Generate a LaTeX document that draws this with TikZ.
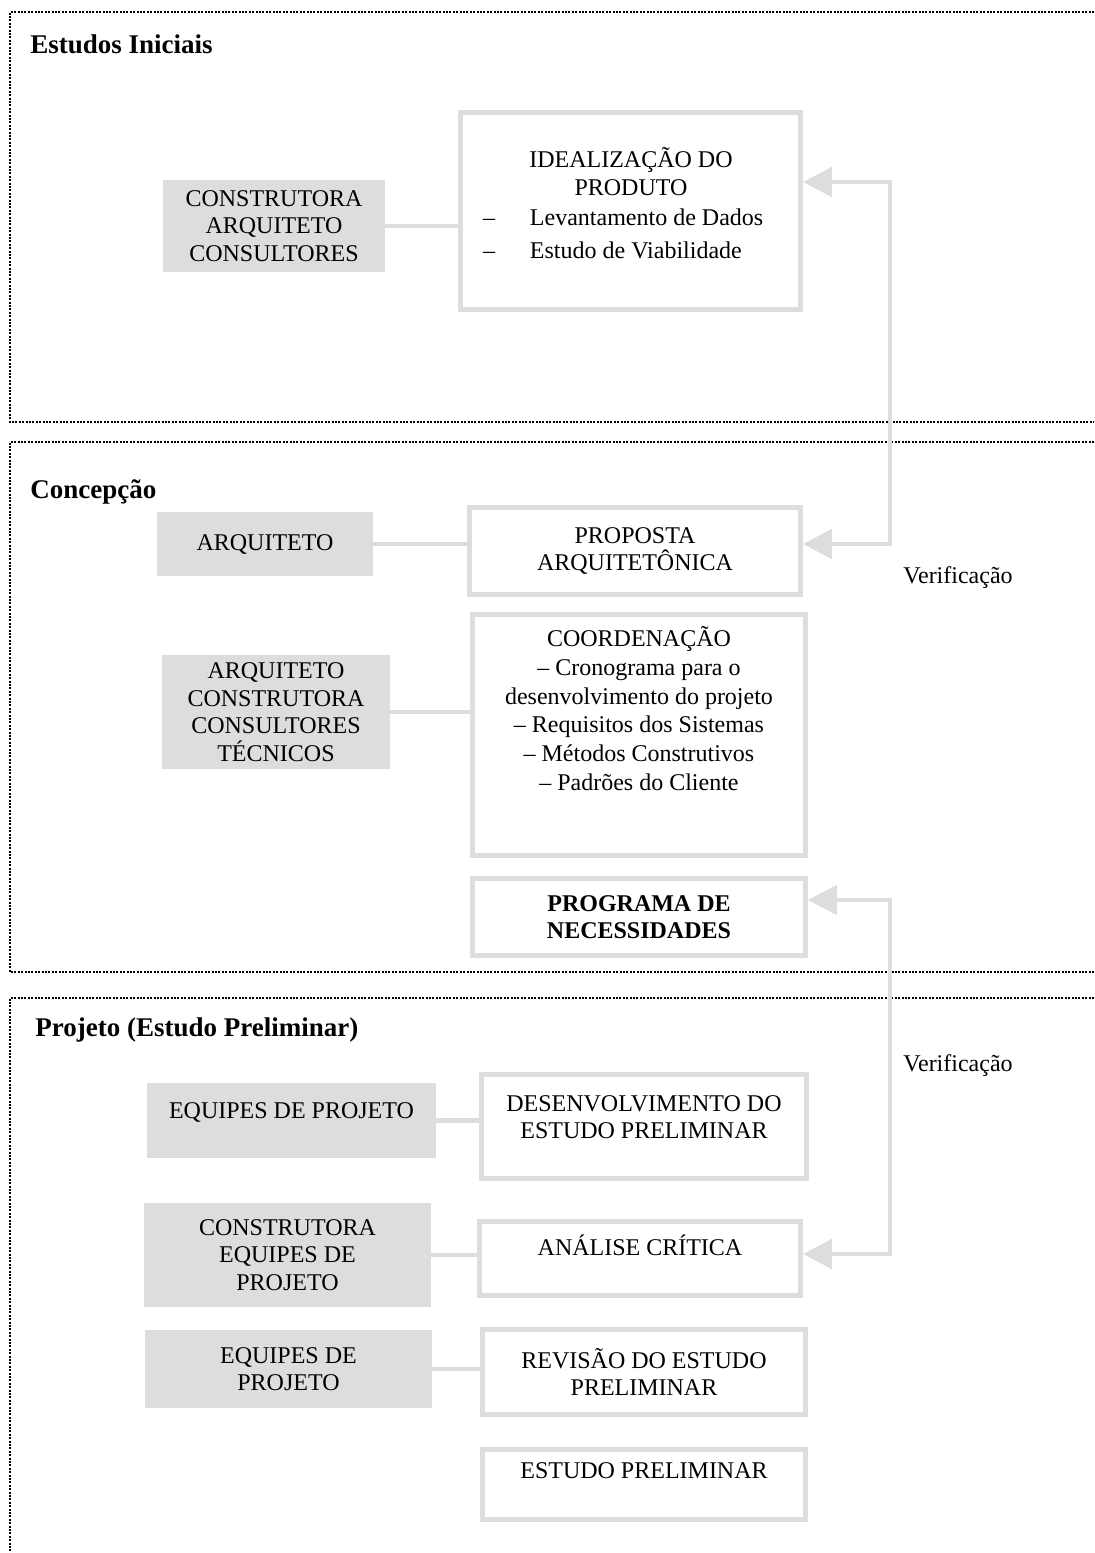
\documentclass[tikz,border=0pt]{standalone}
\usepackage{fontspec}
\setmainfont{Liberation Serif}
\usetikzlibrary{positioning,arrows.meta}
\definecolor{boxgray}{RGB}{221,221,221}

\begin{document}
\begin{tikzpicture}[x=0.5pt,y=-0.5pt,
  every node/.style={font=\fontsize{12}{13.8}\selectfont, inner sep=0pt},
  box size/.style 2 args={minimum width=#1*0.5pt, minimum height=#2*0.5pt},
  phase frame/.style={draw=black, line width=1pt, dash pattern=on 1pt off 0.7pt},
  phase title/.style={anchor=west, font=\bfseries\fontsize{13.5}{16}\selectfont},
  actor box/.style={fill=boxgray, align=center},
  stage box/.style={draw=boxgray, line width=2.4pt, fill=white, align=center},
  link/.style={draw=boxgray, line width=2.3pt},
  check/.style={draw=boxgray, line width=2.3pt,
    {Triangle[length=14.5pt,width=14.5pt]}-{Triangle[length=14.5pt,width=14.5pt]}},
  ]
  \useasboundingbox (0,0) rectangle (1094,1553);

  % phases
  \draw[phase frame] (1094,12) -- (10,12) -- (10,422) -- (1094,422);
  \draw[phase frame] (1094,442) -- (10,442) -- (10,972) -- (1094,972);
  \draw[phase frame] (1094,998) -- (10,998) -- (10,1553);
  \node[phase title] (t1) at (30,44) {Estudos Iniciais};
  \node[phase title] (t2) at (30,492) {Concepção};
  \node[phase title] (t3) at (35,1030) {Projeto (Estudo Preliminar)};

  % Estudos Iniciais
  \node[actor box, box size={222}{92}] (builders1) at (274,226) {CONSTRUTORA\\ARQUITETO\\CONSULTORES};
  \node[stage box, box size={340}{197}] (ideal) at (630.5,211) {};
  \node[anchor=north, align=center] (ideal text) at (631,147)
    {IDEALIZAÇÃO DO\\PRODUTO\\[1.5pt]
     \makebox[148pt][l]{\makebox[23.5pt][l]{--}Levantamento de Dados}\\[2.5pt]
     \makebox[148pt][l]{\makebox[23.5pt][l]{--}Estudo de Viabilidade}};

  % Concepcao
  \node[actor box, box size={216}{64}] (arch) at (265,544) {ARQUITETO};
  \node[stage box, box size={331}{87}] (proposal) at (635,551) {PROPOSTA\\ARQUITETÔNICA};
  \node[actor box, box size={228}{114}] (team) at (276,712) {ARQUITETO\\CONSTRUTORA\\CONSULTORES\\TÉCNICOS};
  \node[stage box, box size={333}{241}] (coord) at (639,735) {};
  \node[anchor=north, align=center, font=\fontsize{12}{14.4}\selectfont] (coord text) at (639,626)
    {COORDENAÇÃO\\-- Cronograma para o\\desenvolvimento do projeto\\-- Requisitos dos Sistemas\\-- Métodos Construtivos\\-- Padrões do Cliente};
  \node[stage box, box size={333}{77}, font=\bfseries\fontsize{12}{13.8}\selectfont] (program) at (639,917) {PROGRAMA DE\\NECESSIDADES};

  % Projeto (Estudo Preliminar)
  \node[actor box, box size={289}{75}, text depth=10pt] (teams1) at (291.5,1120.5) {EQUIPES DE PROJETO};
  \node[stage box, box size={325}{104}, text depth=9.5pt] (develop) at (644,1126.5) {DESENVOLVIMENTO DO\\ESTUDO PRELIMINAR};
  \node[actor box, box size={287}{104}] (builders2) at (287.5,1255) {CONSTRUTORA\\EQUIPES DE\\PROJETO};
  \node[stage box, box size={321}{74}, text depth=13pt] (review) at (640,1258.5) {ANÁLISE CRÍTICA};
  \node[actor box, box size={287}{78}] (teams2) at (288.5,1369) {EQUIPES DE\\PROJETO};
  \node[stage box, box size={323}{85}] (revision) at (644,1372) {REVISÃO DO ESTUDO\\PRELIMINAR};
  \node[stage box, box size={323}{70}, text depth=14pt] (prelim) at (644,1484.5) {ESTUDO PRELIMINAR};

  % links
  \draw[link] (builders1) -- (builders1 -| ideal.west);
  \draw[link] (arch) -- (arch -| proposal.west);
  \draw[link] (team) -- (team -| coord.west);
  \draw[link] (teams1) -- (teams1 -| develop.west);
  \draw[link] (builders2) -- (builders2 -| review.west);
  \draw[link] (teams2) -- (teams2 -| revision.west);

  % verificacao
  \coordinate (v1 top) at (890,182);
  \coordinate (v1 bot) at (890,544);
  \coordinate (v2 top) at (890,900);
  \coordinate (v2 bot) at (890,1254);
  \draw[check] (v1 top -| ideal.east) -- (v1 top) -- (v1 bot) -- (v1 bot -| proposal.east);
  \draw[check] (v2 top -| program.east) -- (v2 top) -- (v2 bot) -- (v2 bot -| review.east);
  \node[anchor=west] (check1) at (903,578) {Verificação};
  \node[anchor=west] (check2) at (903,1066) {Verificação};
\end{tikzpicture}
\end{document}
